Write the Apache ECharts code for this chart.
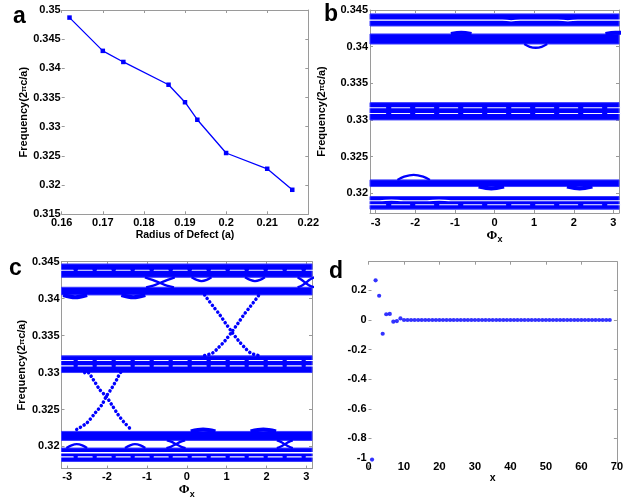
<!DOCTYPE html>
<html><head><meta charset="utf-8">
<script src="https://cdn.jsdelivr.net/npm/echarts@6/dist/echarts.min.js"></script>
<style>html,body{margin:0;padding:0;background:#fff}#main{width:626px;height:500px}</style>
</head><body><div id="main"></div>
<script>
// ---------- Panel a : defect frequency vs radius ----------
const radiusOfDefect  = [0.1619, 0.17, 0.175, 0.186, 0.19, 0.193, 0.2, 0.21, 0.2161];
const defectFrequency = [0.3487, 0.3430, 0.3411, 0.3372, 0.3342, 0.3312, 0.3255, 0.3228, 0.3192];
const radiusAxis = [0.16, 0.22, 0.01];      // min, max, step
const freqAxisA  = [0.315, 0.35, 0.005];

// ---------- Panels b, c : band diagrams vs Phi_x ----------
const phiRange   = [-Math.PI, Math.PI];
const freqRangeB = [0.3173, 0.345];
const freqRangeC = [0.3170, 0.345];

// solid bands [lower, upper] (2πc/a)
const bandsB = [[0.34282, 0.34447], [0.34036, 0.34173], [0.33000, 0.33236], [0.32091, 0.32182], [0.31782, 0.31955]];
const bandsC = [[0.34289, 0.34469], [0.34050, 0.34154], [0.33000, 0.33226], [0.32081, 0.32203], [0.31797, 0.31978]];

// thin empty seams inside the bands [phi, f]
const seamsSolidB = [
  [[-3.2,0.34363],[0.2,0.34363],[0.42,0.34352],[0.65,0.34363],[1.6,0.34363],[1.85,0.34352],[2.1,0.34363],[3.2,0.34363]],
  [[-3.2,0.31897],[-2.9,0.31897],[-2.6,0.31906],[-2.3,0.31897],[-1.7,0.31897],[-1.4,0.31906],[-1.1,0.31897],[3.2,0.31897]]
];
const seamsDashedB = [
  [[-3.2,0.33166],[3.2,0.33166]],
  [[-3.2,0.33087],[3.2,0.33087]],
  [[-3.2,0.31842],[3.2,0.31842]]
];
const seamsSolidC = [
  [[-3.2,0.31915],[3.2,0.31915]]
];
const seamsDashedC = [
  [[-3.2,0.34385],[3.2,0.34385]],
  [[-3.2,0.33162],[3.2,0.33162]],
  [[-3.2,0.33090],[3.2,0.33090]],
  [[-3.2,0.31858],[3.2,0.31858]]
];

// thin branches leaving a band edge (arcs with a gap inside)
const arcsB = [
  [[-2.45,0.32182],[-2.28,0.32226],[-2.04,0.32250],[-1.8,0.32226],[-1.63,0.32182]],
  [[0.75,0.34036],[0.89,0.33998],[1.04,0.33985],[1.19,0.33998],[1.33,0.34036]]
];
const arcsC = [
  [[0.12,0.34289],[0.25,0.34254],[0.37,0.34238],[0.50,0.34254],[0.62,0.34289]],
  [[1.46,0.34289],[1.59,0.34254],[1.71,0.34238],[1.84,0.34254],[1.96,0.34289]],
  [[-3.02,0.31978],[-2.89,0.32014],[-2.76,0.32030],[-2.62,0.32014],[-2.50,0.31978]],
  [[-1.55,0.31978],[-1.42,0.32014],[-1.30,0.32030],[-1.16,0.32014],[-1.04,0.31978]]
];
// small X-shaped crossings between neighbouring bands (panel c)
const crossingsC = [
  [[-1.05,0.34289],[-0.86,0.34255],[-0.67,0.34212],[-0.50,0.34176],[-0.32,0.34154]],
  [[-1.02,0.34154],[-0.84,0.34176],[-0.67,0.34212],[-0.48,0.34255],[-0.30,0.34289]],
  [[2.78,0.34289],[2.88,0.34255],[2.98,0.34212],[3.08,0.34176],[3.20,0.34154]],
  [[2.78,0.34154],[2.88,0.34176],[2.98,0.34212],[3.08,0.34255],[3.20,0.34289]],
  [[-0.50,0.32081],[-0.38,0.32062],[-0.27,0.32030],[-0.15,0.31998],[-0.03,0.31978]],
  [[-0.51,0.31978],[-0.39,0.31998],[-0.27,0.32030],[-0.16,0.32062],[-0.04,0.32081]],
  [[2.26,0.32081],[2.36,0.32062],[2.46,0.32030],[2.56,0.31998],[2.66,0.31978]],
  [[2.26,0.31978],[2.36,0.31998],[2.46,0.32030],[2.56,0.32062],[2.66,0.32081]]
];
// filled bulges of a band edge
const bulgesB = [
  [[-1.1,0.34173],[-0.84,0.34188],[-0.58,0.34173]],
  [[-0.40,0.32091],[-0.08,0.32066],[0.24,0.32091]],
  [[1.83,0.32091],[2.15,0.32066],[2.47,0.32091]],
  [[2.80,0.34173],[3.05,0.34188],[3.20,0.34188]]
];
const bulgesC = [
  [[-3.10,0.34050],[-2.80,0.34020],[-2.50,0.34050]],
  [[-1.64,0.34050],[-1.34,0.34020],[-1.04,0.34050]],
  [[0.10,0.32203],[0.41,0.32228],[0.72,0.32203]],
  [[1.60,0.32203],[1.92,0.32228],[2.24,0.32203]]
];
// interface (edge) modes crossing the gaps, panel c
const edgeModeUpperDown = [[0.45,0.3405],[0.50,0.3401],[0.67,0.3389],[0.83,0.3378],[0.97,0.3367],[1.13,0.3355],[1.30,0.3343],[1.45,0.3334],[1.60,0.33265],[1.80,0.3323]];
const edgeModeUpperUp   = [[0.45,0.3323],[0.65,0.33265],[0.80,0.3334],[0.96,0.3343],[1.13,0.3355],[1.29,0.3367],[1.43,0.3378],[1.59,0.3389],[1.76,0.3401],[1.81,0.3405]];
const edgeModeLowerDown = [[-2.56,0.3300],[-2.51,0.33013],[-2.34,0.32901],[-2.18,0.32766],[-2.02,0.32676],[-1.88,0.32563],[-1.72,0.32428],[-1.59,0.32338],[-1.40,0.3223]];
const edgeModeLowerUp   = [[-2.76,0.3223],[-2.51,0.32316],[-2.30,0.32451],[-2.13,0.32563],[-2.02,0.32676],[-1.88,0.32789],[-1.76,0.32901],[-1.63,0.33013],[-1.58,0.3300]];

// ---------- Panel d : field profile ----------
const siteX = [1,2,3,4,5,6,7,8,9,10,11,12,13,14,15,16,17,18,19,20,21,22,23,24,25,26,27,28,29,30,31,32,33,34,
  35,36,37,38,39,40,41,42,43,44,45,46,47,48,49,50,51,52,53,54,55,56,57,58,59,60,61,62,63,64,65,66,67,68];
const amplitude = [-0.943,0.268,0.164,-0.093,0.039,0.041,-0.011,-0.007,0.011,0,0,0,0,0,0,0,0,0,0,0,0,0,0,0,
  0,0,0,0,0,0,0,0,0,0,0,0,0,0,0,0,0,0,0,0,0,0,0,0,0,0,0,0,0,0,0,0,0,0,0,0,0,0,0,0,0,0,0,0];
const siteAxis = [0, 70, 10];
const ampAxis  = [-1, 0.394, 0.2];

// ================= drawing =================
const FONT = '"Liberation Sans", Arial, sans-serif';
const BLUE = '#0000ff';
const EDGE = '#3a3aff';
const AX = '#9a9a9a';
const lbl = {color:'#000', fontWeight:'bold', fontSize:11, fontFamily:FONT};

function axisPair(kind, gi, cfg) {
  const common = {type:'value', gridIndex:gi, min:cfg.min, max:cfg.max, splitLine:{show:false},
    axisTick:{show:true, inside:true, length:3, lineStyle:{color:AX}}};
  if (cfg.interval != null) common.interval = cfg.interval; else common.splitNumber = cfg.splitNumber || 5;
  const main = Object.assign({}, common, {
    position: kind === 'x' ? 'bottom' : 'left',
    axisLine:{show: cfg.line0 !== false, onZero:false, lineStyle:{color:AX, width:1}},
    axisLabel: Object.assign({show:true, margin: cfg.margin != null ? cfg.margin : 3,
      showMinLabel: cfg.showMin !== false, showMaxLabel: cfg.showMax !== false}, lbl, cfg.axisLabel || {}),
  });
  if (cfg.name) {
    main.name = cfg.name; main.nameLocation = 'middle'; main.nameGap = cfg.nameGap;
    main.nameTextStyle = Object.assign({}, lbl, {fontSize: cfg.nameSize || 11}, cfg.nameStyle || {});
  }
  const mirror = Object.assign({}, common, {
    position: kind === 'x' ? 'top' : 'right',
    axisLine:{show: cfg.line1 !== false, onZero:false, lineStyle:{color:AX, width:1}},
    axisLabel:{show:false}
  });
  return [main, mirror];
}

const freqName = 'Frequency(2{p|π}c/a)';
const freqNameStyle = {rich:{p:{fontSize:8, fontWeight:'bold', fontFamily:FONT, color:'#000'}}};
const phiName = '{p|Φ}{s|x}';
const phiNameStyle = {rich:{p:{fontSize:13, fontFamily:'"Liberation Serif", serif', color:'#000'},
                            s:{fontSize:9, fontWeight:'bold', fontFamily:FONT, color:'#000', padding:[9,0,0,0]}}};

const xAxis = [].concat(
  axisPair('x', 0, {min:radiusAxis[0], max:radiusAxis[1], interval:radiusAxis[2], name:'Radius of Defect (a)', nameGap:11, nameSize:10.5}),
  axisPair('x', 1, {min:phiRange[0], max:phiRange[1], splitNumber:6, showMin:false, showMax:false, margin:4, name:phiName, nameGap:9, nameStyle:phiNameStyle}),
  axisPair('x', 2, {min:phiRange[0], max:phiRange[1], splitNumber:6, showMin:false, showMax:false, margin:3, name:phiName, nameGap:5, nameStyle:phiNameStyle}),
  axisPair('x', 3, {min:siteAxis[0], max:siteAxis[1], interval:siteAxis[2], line0:false, margin:-7, name:'x', nameGap:0, nameSize:10.5})
);
const yAxis = [].concat(
  axisPair('y', 0, {min:freqAxisA[0], max:freqAxisA[1], interval:freqAxisA[2], line0:false, margin:1, name:freqName, nameGap:27, nameStyle:freqNameStyle}),
  axisPair('y', 1, {min:freqRangeB[0], max:freqRangeB[1], splitNumber:5, showMin:false, margin:2, name:freqName, nameGap:43, nameStyle:freqNameStyle}),
  axisPair('y', 2, {min:freqRangeC[0], max:freqRangeC[1], splitNumber:5, showMin:false, margin:2, name:freqName, nameGap:34, nameStyle:freqNameStyle}),
  axisPair('y', 3, {min:ampAxis[0], max:ampAxis[1], interval:ampAxis[2], line0:false, showMax:false, margin:2,
     axisLabel:{formatter: v => v === -1 ? '{u|-1}' : String(Math.round(v * 10) / 10),
                rich:{u:{color:'#000', fontWeight:'bold', fontSize:11, fontFamily:FONT, padding:[0,0,20,0]}}}})
);

function bandSeries(gi, bands) {
  return {type:'custom', xAxisIndex:2*gi, yAxisIndex:2*gi, silent:true, animation:false, z:2,
    data: bands.map(b => [phiRange[0], b[0], phiRange[1], b[1]]),
    encode:{x:[0,2], y:[1,3]},
    renderItem: (params, api) => {
      const p1 = api.coord([api.value(0), api.value(3)]);
      const p2 = api.coord([api.value(2), api.value(1)]);
      return {type:'rect', shape:{x:p1[0], y:p1[1], width:p2[0]-p1[0], height:p2[1]-p1[1]},
              style:{fill:BLUE, stroke:EDGE, lineWidth:1}};
    }};
}
function curve(gi, pts, color, width, type, z, smooth) {
  return {type:'line', xAxisIndex:2*gi, yAxisIndex:2*gi, data:pts, showSymbol:false, symbol:'none',
    smooth: smooth == null ? 0.35 : smooth, silent:true, animation:false, z:z, clip:true,
    lineStyle:{color:color, width:width, type:type, cap: Array.isArray(type) ? 'round' : 'butt'}};
}
const DOTS = [0.1, 4.2];

const series = [];
// panel a
series.push({type:'line', xAxisIndex:0, yAxisIndex:0, data: radiusOfDefect.map((r,i) => [r, defectFrequency[i]]),
  symbol:'rect', symbolSize:4.5, showSymbol:true, silent:true, animation:false,
  itemStyle:{color:BLUE}, lineStyle:{color:BLUE, width:1.3}});
// panel b
series.push(bandSeries(1, bandsB));
bulgesB.forEach(p => series.push(curve(1, p, BLUE, 4, 'solid', 3)));
seamsSolidB.forEach(p => series.push(curve(1, p, '#ffffff', 1.2, 'solid', 4)));
seamsDashedB.forEach(p => series.push(curve(1, p, '#f4f4ff', 1.1, [18, 6], 4, false)));
arcsB.forEach(p => series.push(curve(1, p, BLUE, 2.3, 'solid', 5)));
// panel c
series.push(bandSeries(2, bandsC));
bulgesC.forEach(p => series.push(curve(2, p, BLUE, 4, 'solid', 3)));
seamsSolidC.forEach(p => series.push(curve(2, p, '#ffffff', 1.5, 'solid', 4)));
seamsDashedC.forEach(p => series.push(curve(2, p, '#f4f4ff', 1.1, [14, 5], 4, false)));
arcsC.forEach(p => series.push(curve(2, p, BLUE, 2.3, 'solid', 5)));
crossingsC.forEach(p => series.push(curve(2, p, BLUE, 2.3, 'solid', 5)));
[edgeModeUpperDown, edgeModeUpperUp, edgeModeLowerDown, edgeModeLowerUp]
  .forEach(p => series.push(curve(2, p, BLUE, 3.5, DOTS, 6, 0.3)));
// panel d
series.push({type:'scatter', xAxisIndex:6, yAxisIndex:6, data: siteX.map((x,i) => [x, amplitude[i]]),
  symbol:'circle', symbolSize:4.2, silent:true, animation:false, itemStyle:{color:BLUE}});

const letter = (t, l, tp) => ({type:'text', left:l, top:tp, z:100,
  style:{text:t, fill:'#000', font:'bold 23px "Liberation Sans", Arial, sans-serif'}});

const option = {
  animation:false,
  backgroundColor:'#fff',
  grid:[
    {left:61.7, right:317.7, top:10, bottom:285.7},
    {left:370, right:7, top:10, bottom:287},
    {left:61.5, right:314, top:261.7, bottom:31},
    {left:368.5, right:8, top:261.7, bottom:32}
  ],
  xAxis:xAxis, yAxis:yAxis, series:series,
  graphic:[letter('a', 13, 5), letter('b', 324, 3), letter('c', 9, 257), letter('d', 329, 260)]
};
const chart = echarts.init(document.getElementById('main'), null, {renderer:'canvas'});
chart.setOption(option);
</script></body></html>
